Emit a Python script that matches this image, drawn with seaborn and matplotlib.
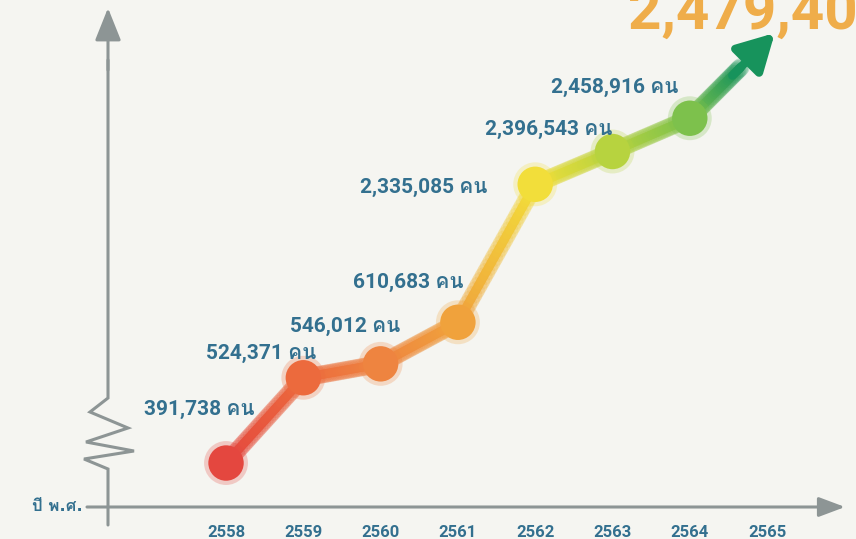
#!/usr/bin/env python3
"""
Visitor numbers by Buddhist-era year, redrawn as a schematic line chart
with a broken y axis (the axis has no tick labels, only the zigzag break).
"""

import numpy as np
import matplotlib
matplotlib.use("Agg")
import matplotlib.pyplot as plt
import seaborn as sns
from matplotlib import font_manager, ft2font
from matplotlib.collections import LineCollection
from matplotlib.colors import to_rgb

# data
years = [2558, 2559, 2560, 2561, 2562, 2563, 2564]
visitors = [391738, 524371, 546012, 610683, 2335085, 2396543, 2458916]
tick_years = [2558, 2559, 2560, 2561, 2562, 2563, 2564, 2565]
forecast_year = 2565
forecast_value = 2479400
unit = "คน"
axis_label = "ปี พ.ศ."

# styling
point_colors = ["#e4473f", "#ec6a3d", "#ee8440", "#f0a23c", "#f2de3a", "#b7d33f", "#7dc14c"]
arrow_color = "#17935c"
text_color = "#33708f"
axis_color = "#8d9595"
paper = "#f5f5f1"
# label offsets (pixels) from each point, label is right-aligned
label_offsets = [(29, 54), (13, 24), (20, 37), (6, 40), (-48, -3), (0, 22), (-11, 31)]

# broken y axis: value -> pixels above the x axis line
break_values = [0, 300000, 650000, 2300000, 2600000, 3000000]
break_pixels = [-207, -15, 210, 304, 464, 677]


def fwd(v):
    return np.interp(v, break_values, break_pixels)


def inv(p):
    return np.interp(p, break_pixels, break_values)


def thai_family():
    """Find an installed family that has Thai glyphs"""
    for f in font_manager.fontManager.ttflist:
        try:
            if 0x0E04 in ft2font.FT2Font(f.fname).get_charmap():
                return f.name
        except Exception:
            pass
    return "DejaVu Sans"


sns.set_style("white")
thai = thai_family()
plt.rcParams["font.family"] = ["DejaVu Sans", thai]
label_font = ["Roboto", thai]

W, H = 856, 539
fig = plt.figure(figsize=(W / 100, H / 100), dpi=100, facecolor=paper)
# axes box: left = y axis line, bottom = x axis line
ax = fig.add_axes([108 / W, 32 / H, 737 / W, 499 / H])
ax.set_facecolor(paper)
for s in ax.spines.values():
    s.set_visible(False)

ax.set_yscale("function", functions=(fwd, inv))
ax.set_xlim(2556.473, 2566.008)
ax.set_ylim(inv(0), inv(499))
ax.set_yticks([])
ax.set_xticks(tick_years)
ax.set_xticklabels([str(y) for y in tick_years], fontsize=12, fontweight="bold",
                   color=text_color, family=label_font)
ax.tick_params(axis="x", direction="inout", length=22, width=1.4, color=axis_color, pad=2)
ax.set_xlabel("")
ax.set_ylabel("")


def px2ax(px, py):
    return (px - 108) / 737, (507 - py) / 499


# x axis with arrow
ax.annotate("", xy=(1.0, 0), xytext=(px2ax(87, 507)[0], 0), xycoords="axes fraction",
            arrowprops=dict(arrowstyle="-|>,head_length=0.8,head_width=0.3", mutation_scale=20,
                            color=axis_color, lw=2.2, shrinkA=0, shrinkB=0),
            annotation_clip=False, zorder=1)

# y axis with zigzag break and arrow
zig = [(108, 525), (108, 469), (84, 459), (134, 451), (86, 442), (128, 428), (90, 412), (108, 398), (108, 60)]
zx, zy = zip(*[px2ax(*p) for p in zig])
ax.plot(zx, zy, color=axis_color, lw=2.2, transform=ax.transAxes, clip_on=False,
        solid_joinstyle="miter", zorder=1)
ax.annotate("", xy=px2ax(108, 8), xytext=px2ax(108, 70), xycoords="axes fraction",
            arrowprops=dict(arrowstyle="-|>,head_length=1.0,head_width=0.4", mutation_scale=20,
                            color=axis_color, lw=2.2, shrinkA=0, shrinkB=0),
            annotation_clip=False, zorder=1)

# gradient line (built in axes-fraction space so segments stay straight on screen)
to_ax = ax.transData + ax.transAxes.inverted()
nodes = to_ax.transform(np.column_stack([years, visitors]))
tip_x = to_ax.transform([(forecast_year + 0.1, visitors[-1])])[0][0]
tip = np.array([tip_x, px2ax(777, 33)[1]])
shaft_end = nodes[-1] + (tip - nodes[-1]) * 0.6
path = np.vstack([nodes, shaft_end])
node_cols = [to_rgb(c) for c in point_colors + [arrow_color]]

segs, cols = [], []
n = 30
for i in range(len(path) - 1):
    for k in range(n):
        t0, t1 = k / n, (k + 1) / n
        segs.append([path[i] + (path[i + 1] - path[i]) * t0, path[i] + (path[i + 1] - path[i]) * t1])
        cols.append(np.array(node_cols[i]) * (1 - t0) + np.array(node_cols[i + 1]) * t0)
ax.add_collection(LineCollection(segs, colors=cols, linewidths=13, alpha=0.25,
                                 transform=ax.transAxes, capstyle="round", zorder=2))
ax.add_collection(LineCollection(segs, colors=cols, linewidths=6.5,
                                 transform=ax.transAxes, capstyle="round", zorder=3))

# arrow head for the rising trend
head_start = nodes[-1] + (tip - nodes[-1]) * 0.5
ax.annotate("", xy=tuple(tip), xytext=tuple(head_start), xycoords="axes fraction",
            arrowprops=dict(arrowstyle="-|>,head_length=1.0,head_width=0.55", mutation_scale=22,
                            color=arrow_color, lw=6, shrinkA=0, shrinkB=0),
            annotation_clip=False, zorder=3)

# markers
pal = dict(zip(years, point_colors))
sns.scatterplot(x=years, y=visitors, hue=years, palette=pal, s=1000, alpha=0.25,
                edgecolor="none", legend=False, ax=ax, zorder=4)
sns.scatterplot(x=years, y=visitors, hue=years, palette=pal, s=650,
                edgecolor="none", legend=False, ax=ax, zorder=5)

# value labels
for yr, v, (dx, dy) in zip(years, visitors, label_offsets):
    ax.annotate(f"{v:,} {unit}", xy=(yr, v), xytext=(dx, dy), textcoords="offset pixels",
                ha="right", va="center", fontsize=15, fontweight="bold", color=text_color,
                family=label_font, zorder=6)

# big forecast number (cut off at the page edge, as in the print)
fig.text(628 / W, 1 - 29 / H, f"{forecast_value:,}", fontsize=42, fontweight="bold",
         color="#efad4a", ha="left", va="baseline", family=label_font)

fig.text(57 / W, 1 - 506 / H, axis_label, fontsize=12, fontweight="bold", color=text_color,
         ha="center", va="center")

fig.savefig("out.png", dpi=100, facecolor=paper)
